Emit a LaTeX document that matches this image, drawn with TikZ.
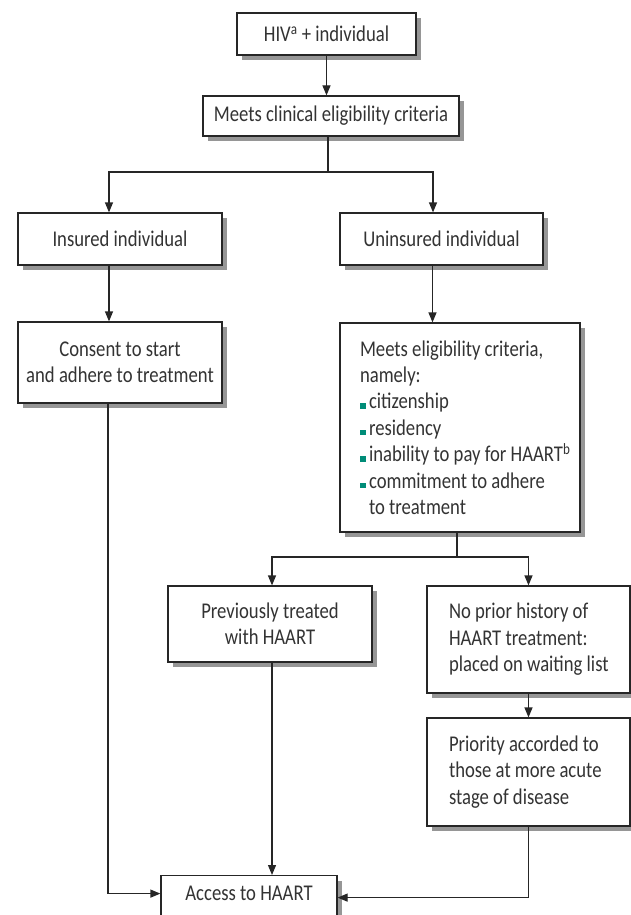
\documentclass[tikz,border=0pt]{standalone}
\usepackage{fontspec}
\setmainfont{Carlito}[FakeStretch=0.83]
\usepackage{tikz}
\usetikzlibrary{arrows.meta,shadows}
\definecolor{bulletTeal}{RGB}{0,140,120}
\definecolor{shadowGray}{RGB}{150,150,150}
\newcommand{\sqbullet}{\textcolor{bulletTeal}{\rule{5.5pt}{5.5pt}}\hspace{3.5pt}}

\begin{document}
\begin{tikzpicture}[x=1pt,y=-1pt,
  box/.style={draw=black!85,line width=1.2pt,fill=white,text=black!80,align=center,inner sep=0pt,font=\fontsize{22.5}{26.4}\selectfont,drop shadow={shadow xshift=5pt,shadow yshift=-5pt,fill=shadowGray,opacity=1}},
  listbox/.style={box,align=flush left},
  arrow/.style={-{Triangle[length=10pt,width=8pt]},line width=1.2pt,draw=black!85},
  link/.style={line width=1.2pt,draw=black!85}
]
\useasboundingbox (0,0) rectangle (631,915);
\node[box,minimum width=179pt,minimum height=42pt] (hiv) at (326.5,34) {HIV\textsuperscript{a} + individual};
\node[box,minimum width=256pt,minimum height=40pt] (crit) at (331,116) {Meets clinical eligibility criteria};
\node[box,minimum width=204pt,minimum height=52pt] (ins) at (120,239) {Insured individual};
\node[box,minimum width=203pt,minimum height=52pt] (unins) at (441.5,239) {Uninsured individual};
\node[box,minimum width=204pt,minimum height=81pt] (consent) at (120,362.5) {Consent to start\\and adhere to treatment};
\node[listbox,text width=200pt,inner xsep=20pt,minimum height=209pt] (elig) at (460,427.5) {Meets eligibility criteria,\\namely:\\\sqbullet citizenship\\\sqbullet residency\\\mbox{\sqbullet inability to pay for HAART\textsuperscript{b}}\\\sqbullet commitment to adhere\\\hspace*{9pt}to treatment};
\node[box,minimum width=204pt,minimum height=76pt] (prev) at (270,624) {Previously treated\\with HAART};
\node[listbox,text width=159pt,inner xsep=22pt,minimum height=107pt] (noprior) at (528.5,639.5) {No prior history of\\HAART treatment:\\\mbox{placed on waiting list}};
\node[listbox,text width=159pt,inner xsep=22pt,minimum height=108pt] (prio) at (528.5,772) {Priority accorded to\\those at more acute\\stage of disease};
\node[box,anchor=north,minimum width=176pt,text height=15pt,text depth=12pt,inner ysep=10pt] (access) at (249,875) {Access to HAART};
\coordinate (fork1) at (328,172);
\coordinate (fork2) at (457,557);
\draw[arrow] (hiv.south) -- (hiv.south |- crit.north);
\draw[link] (crit.south -| fork1) -- (fork1);
\draw[arrow] (fork1) -| ([xshift=-11pt]ins.north);
\draw[arrow] (fork1) -| ([xshift=-8.5pt]unins.north);
\draw[arrow] ([xshift=-11pt]ins.south) -- ([xshift=-11pt]consent.north);
\draw[arrow] ([xshift=-9pt]unins.south) -- ([xshift=-9pt]unins.south |- elig.north);
\draw[link] (elig.south -| fork2) -- (fork2);
\draw[arrow] (fork2) -| ([xshift=2pt]prev.north);
\draw[arrow] (fork2) -| (noprior.north);
\draw[arrow] (noprior.south) -- (prio.north);
\draw[arrow] ([xshift=2pt]prev.south) -- ([xshift=2pt]prev.south |- access.north);
\draw[arrow] ([xshift=-12pt]consent.south) |- ([yshift=5.5pt]access.west);
\draw[arrow] (prio.south) |- ([yshift=1.5pt]access.east);
\end{tikzpicture}
\end{document}
